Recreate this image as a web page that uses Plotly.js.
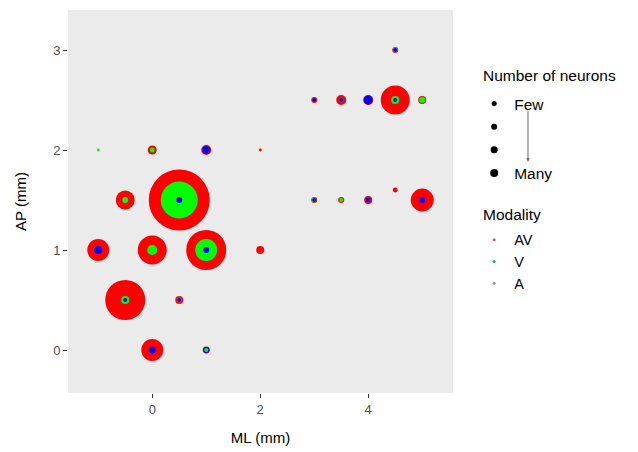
<!DOCTYPE html>
<html>
<head>
<meta charset="utf-8">
<script src="https://cdn.plot.ly/plotly-3.0.1.min.js"></script>
<style>html,body{margin:0;padding:0;background:#fff;}#chart{width:638px;height:452px;}</style>
</head>
<body>
<div id="chart"></div>
<script>
// Recording sites (mm) and estimated number of neurons per modality
const ml = [-1, 0, 1, 2, -0.5, 0.5, -1, 0, 1, 2, -0.5, 0.5, 0, 1, 4.5, 3, 3.5, 4, 4.5, 5, 3, 3.5, 4, 4.5, 5];
const ap = [2, 2, 2, 2, 1.5, 1.5, 1, 1, 1, 1, 0.5, 0.5, 0, 0, 3, 2.5, 2.5, 2.5, 2.5, 2.5, 1.5, 1.5, 1.5, 1.6, 1.5];
const nAV = [0, 20, 25, 2, 90, 930, 121, 210, 400, 16, 400, 16, 121, 12, 9, 9, 25, 25, 210, 16, 9, 9, 16, 6, 132];
const nV  = [2, 6, 0, 0, 9, 342, 0, 25, 121, 0, 16, 6, 0, 4, 6, 4, 4, 0, 16, 9, 6, 4, 0, 0, 0];
const nA  = [0, 0, 16, 0, 0, 9, 16, 0, 9, 0, 4, 4, 12, 9, 4, 4, 4, 20, 4, 0, 4, 0, 6, 0, 9];
const modalities = ['AV', 'V', 'A'];
const sizeLabels = ['Few', '', '', 'Many'];

const plotColors = {AV: '#ff0000', V: '#00ff00', A: '#0000ff'};
const legendColors = {AV: '#e0507a', V: '#10b080', A: '#8c9a9a'};
const legendSizes = [5, 6, 7, 8];

// combine and sort so larger circles are drawn first
const series = {AV: nAV, V: nV, A: nA};
const pts = [];
modalities.forEach(m => {
  series[m].forEach((n, i) => { if (n > 0) pts.push({x: ml[i], y: ap[i], n: n, c: plotColors[m]}); });
});
pts.sort((a, b) => b.n - a.n);

const traces = [{
  type: 'scatter', mode: 'markers',
  x: pts.map(p => p.x), y: pts.map(p => p.y),
  marker: {size: pts.map(p => p.n), sizemode: 'area', sizeref: 0.5, color: pts.map(p => p.c), line: {width: 0}, opacity: 1},
  showlegend: false, hoverinfo: 'skip'
}];

sizeLabels.forEach((lab, k) => {
  traces.push({
    type: 'scatter', mode: 'markers', x: [null], y: [null],
    name: lab || ' '.repeat(k), legend: 'legend',
    marker: {size: legendSizes[k], color: '#000'}, showlegend: true
  });
});
modalities.forEach(m => {
  traces.push({
    type: 'scatter', mode: 'markers', x: [null], y: [null],
    name: m, legend: 'legend2',
    marker: {size: 3, color: legendColors[m]}, showlegend: true
  });
});

const layout = {
  width: 638, height: 452,
  margin: {l: 68, r: 185, t: 10, b: 59},
  paper_bgcolor: '#ffffff', plot_bgcolor: '#ebebeb',
  font: {family: 'Liberation Sans, Arial, sans-serif', color: '#000'},
  xaxis: {
    range: [-1.56, 5.57], tickvals: [0, 2, 4], ticktext: ['0', '2', '4'],
    ticks: 'outside', ticklen: 4, tickwidth: 1, tickcolor: '#333',
    showgrid: false, zeroline: false, showline: false,
    tickfont: {size: 13, color: '#4d4d4d'},
    title: {text: 'ML (mm)', font: {size: 15, color: '#000'}, standoff: 16}
  },
  yaxis: {
    range: [-0.43, 3.4], tickvals: [0, 1, 2, 3], ticktext: ['0', '1', '2', '3'],
    ticks: 'outside', ticklen: 4, tickwidth: 1, tickcolor: '#333',
    showgrid: false, zeroline: false, showline: false,
    tickfont: {size: 13, color: '#4d4d4d'},
    title: {text: 'AP (mm)', font: {size: 15, color: '#000'}, standoff: 22}
  },
  legend: {
    x: 1.055, xanchor: 'left', y: 0.799, yanchor: 'top',
    font: {size: 15.5, color: '#000'}, bgcolor: 'rgba(0,0,0,0)',
    itemsizing: 'trace'
  },
  legend2: {
    x: 1.055, xanchor: 'left', y: 0.442, yanchor: 'top',
    font: {size: 14.5, color: '#000'}, bgcolor: 'rgba(0,0,0,0)',
    itemsizing: 'trace'
  },
  annotations: [
    {xref: 'paper', yref: 'paper', x: 1.0727, y: 0.830, xanchor: 'left', yanchor: 'middle',
     text: 'Number of neurons', showarrow: false, font: {size: 15.5, color: '#000'}},
    {xref: 'paper', yref: 'paper', x: 1.0727, y: 0.4648, xanchor: 'left', yanchor: 'middle',
     text: 'Modality', showarrow: false, font: {size: 15.5, color: '#000'}},
    {xref: 'paper', yref: 'paper', x: 1.1948, y: 0.604,
     ax: 0, ay: -52, text: '', showarrow: true,
     arrowhead: 2, arrowsize: 0.7, arrowwidth: 1, arrowcolor: '#666'}
  ]
};

Plotly.newPlot('chart', traces, layout, {displayModeBar: false, staticPlot: true});
</script>
</body>
</html>
